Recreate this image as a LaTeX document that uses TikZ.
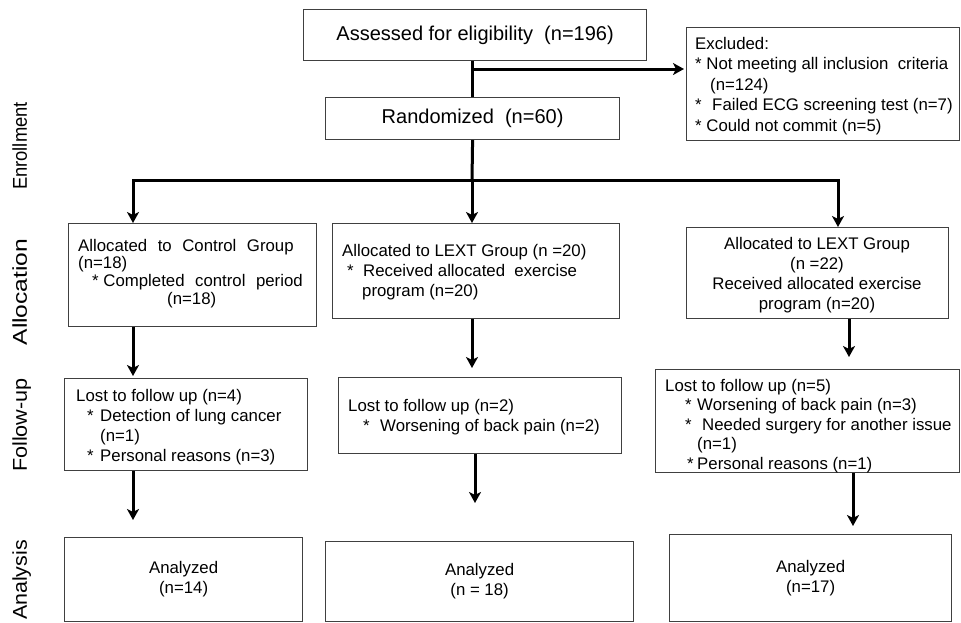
\documentclass[tikz,border=0pt]{standalone}
\usepackage{fontspec}
\setmainfont{Liberation Sans}
\usetikzlibrary{arrows.meta}
\newcommand{\wsp}{\hspace{10.5pt}}
\begin{document}
\begin{tikzpicture}[x=1pt,y=-1pt,
  box/.style={draw=black!75, line width=1.2pt, inner sep=0pt, anchor=north west, align=center,
              font=\fontsize{16.8}{20}\selectfont},
  bigbox/.style={box, font=\fontsize{20}{24}\selectfont},
  txt/.style={inner sep=0pt, anchor=north west, align=left},
  lnk/.style={line width=3pt, black},
  arr/.style={lnk, -{Stealth[length=11pt,width=12pt,inset=3pt]}},
  side/.style={rotate=90, anchor=base, inner sep=0pt, font=\fontsize{20}{24}\selectfont}]
\useasboundingbox (0,0) rectangle (961,622);

% side labels
\node[side] (lenr) at (27,146) {\scalebox{0.92}[1]{Enrollment}};
\node[side] (lall) at (27,292) {\scalebox{1.23}[1]{Allocation}};
\node[side] (lfol) at (27,425) {\scalebox{1.08}[1]{Follow-up}};
\node[side] (lana) at (27,580) {\scalebox{1.07}[1]{Analysis}};

% enrollment
\node[bigbox, minimum width=343pt, minimum height=51pt] (assess) at (303,9) {Assessed for eligibility\ \ (n=196)};
\node[bigbox, minimum width=294pt, minimum height=42pt] (rand) at (325,97) {Randomized\ \ (n=60)};
\node[box, minimum width=273pt, minimum height=113pt] (excl) at (686,27) {};
\node[txt, font=\fontsize{16.8}{20.5}\selectfont] (texcl) at (695,36.7)
  {Excluded:\\
   * Not meeting all inclusion\ \ criteria\\
   \hspace*{15pt}(n=124)\\
   *\hspace{10.5pt}Failed ECG screening test (n=7)\\
   * Could not commit (n=5)};

% allocation
\node[box, minimum width=248pt, minimum height=103pt] (a1) at (68,223) {};
\node[txt, font=\fontsize{16.8}{17.8}\selectfont] (ta1) at (78,238.7)
  {Allocated\wsp to\wsp Control\wsp Group\\
   (n=18)\\
   \hspace*{14pt}*\ Completed\wsp control\wsp period\\
   \hspace*{89pt}(n=18)};
\node[box, minimum width=287pt, minimum height=95pt] (a2) at (332,223) {};
\node[txt, font=\fontsize{16.8}{20}\selectfont] (ta2) at (342,243.7)
  {Allocated to LEXT Group (n\ =20)\\
   \hspace*{5pt}*\hspace{9.5pt}Received allocated\ \ exercise\\
   \hspace*{20pt}program (n=20)};
\node[box, minimum width=262pt, minimum height=91pt] (a3) at (686,227) {};
\node[txt, anchor=north, align=center, font=\fontsize{16.8}{20}\selectfont] (ta3) at (817,236.7)
  {Allocated to LEXT Group\\ (n\ =22)\\ Received allocated exercise\\ program (n=20)};

% follow-up
\node[box, minimum width=243pt, minimum height=92pt] (f1) at (64,378) {};
\node[txt, font=\fontsize{16.8}{20.3}\selectfont] (tf1) at (76,388.7)
  {Lost to follow up (n=4)\\
   \hspace*{11pt}*\hspace{6.5pt}Detection of lung cancer\\
   \hspace*{24pt}(n=1)\\
   \hspace*{11pt}*\hspace{6.5pt}Personal reasons (n=3)};
\node[box, minimum width=283pt, minimum height=76pt] (f2) at (338,377) {};
\node[txt, font=\fontsize{16.8}{20}\selectfont] (tf2) at (348,398.7)
  {Lost to follow up (n=2)\\
   \hspace*{15pt}*\hspace{10.5pt}Worsening of back pain (n=2)};
\node[box, minimum width=304pt, minimum height=103pt] (f3) at (655,369) {};
\node[txt, font=\fontsize{16.8}{19.5}\selectfont] (tf3) at (665,378.7)
  {Lost to follow up (n=5)\\
   \hspace*{20pt}*\hspace{5.5pt}Worsening of back pain (n=3)\\
   \hspace*{20pt}*\hspace{10.5pt}Needed surgery\ for another\ issue\\
   \hspace*{32pt}(n=1)\\
   \hspace*{22pt}*\hspace{3.5pt}Personal reasons (n=1)};

% analysis
\node[box, minimum width=238pt, minimum height=84pt] (n1) at (64,537) {Analyzed\\(n=14)};
\node[box, minimum width=308pt, minimum height=80pt] (n2) at (325,541) {Analyzed\\(n = 18)};
\node[box, minimum width=282pt, minimum height=87pt] (n3) at (669,534) {Analyzed\\(n=17)};

% coordinates
\coordinate (b) at (472,69);
\coordinate (j) at (472,180);
\coordinate (jl) at (133,180);
\coordinate (jr) at (838,180);
\coordinate (e2) at (472,368);
\coordinate (e3) at (849,357);
\coordinate (g1) at (133,520);
\coordinate (g2) at (475,503);
\coordinate (g3) at (853,526);

% connectors
\draw[lnk] (assess.south -| rand.south) -- (rand.north);
\draw[arr] (b) -- ([xshift=-2pt]excl.west |- b);
\draw[lnk] (rand.south) -- (j);
\draw[arr] (j) -| (jl |- a1.north);
\draw[arr] (j) -| (jr |- a3.north);
\draw[arr] (j) -- (j |- a2.north);
\draw[arr, shorten >=2pt] (a1.south -| jl) -- (f1.north -| jl);
\draw[arr] (a2.south -| e2) -- (e2);
\draw[arr] (a3.south -| e3) -- (e3);
\draw[arr] (f1.south -| g1) -- (g1);
\draw[arr] (f2.south -| g2) -- (g2);
\draw[arr] (f3.south -| g3) -- (g3);
\end{tikzpicture}
\end{document}
